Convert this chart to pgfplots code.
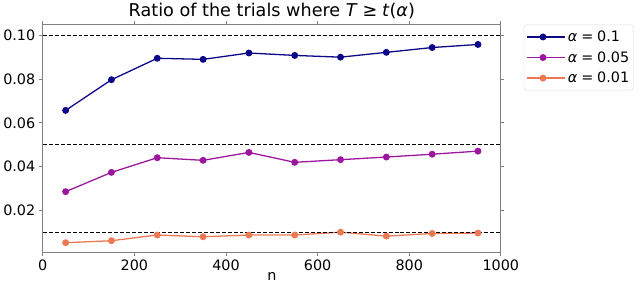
\documentclass[border=0pt]{standalone}
\usepackage{fontspec}
\setmainfont{DejaVu Sans}
\usepackage{pgfplots}
\pgfplotsset{compat=1.18}
\definecolor{cblue}{HTML}{0D0887}
\definecolor{cpurple}{HTML}{9C179E}
\definecolor{corange}{HTML}{ED7953}
\definecolor{spine}{HTML}{808080}
\newcommand{\msp}{\hspace{0.27em}}
\begin{document}
\begin{tikzpicture}
\begin{axis}[
  scale only axis,
  width=461bp, height=229bp,
  xmin=0, xmax=1000,
  ymin=0.0008, ymax=0.1047,
  xtick={0,200,400,600,800,1000},
  ytick={0.02,0.04,0.06,0.08,0.10},
  xticklabel style={/pgf/number format/1000 sep={}},
  yticklabel style={/pgf/number format/fixed,/pgf/number format/fixed zerofill,/pgf/number format/precision=2},
  /pgf/number format/assume math mode=true,
  scaled y ticks=false,
  tick align=outside,
  major tick length=3.5bp,
  tick style={spine, line width=0.8bp},
  axis line style={spine, line width=1bp},
  every tick label/.append style={font=\fontsize{14.5}{16}\selectfont, black},
  xticklabel style={yshift=-0.5bp},
  yticklabel style={xshift=-0.5bp},
  xlabel={n},
  xlabel style={font=\fontsize{14.5}{16}\selectfont, yshift=5bp},
  title={Ratio of the trials where \textit{T}\msp≥\msp\textit{t}(\textit{α})},
  title style={font=\fontsize{17.8}{19}\selectfont, yshift=-3.5bp},
  legend style={at={(1.05,1.001)}, anchor=north west, draw=black!15, rounded corners=2.5bp,
    font=\fontsize{14.5}{16}\selectfont, row sep=4.5bp, inner xsep=2bp, inner ysep=4bp},
  legend cell align=left,
  legend image code/.code={
    \path (-1bp,0bp) -- (38bp,0bp);
    \draw[#1, line width=1.3bp, mark=none] (0bp,0bp) -- (31bp,0bp);
    \fill[#1] (15.5bp,0bp) circle (2.8bp);
  },
  clip=false,
]
\addplot[cblue, line width=1.3bp, mark=*, mark size=2.8bp] coordinates {
(50,0.0657) (150,0.0797) (250,0.0895) (350,0.0890) (450,0.0919) (550,0.0908) (650,0.0900) (750,0.0922) (850,0.0944) (950,0.0958)};
\addlegendentry{\textit{α}\msp=\msp0.1}
\addplot[cpurple, line width=1.3bp, mark=*, mark size=2.8bp] coordinates {
(50,0.0286) (150,0.0374) (250,0.0441) (350,0.0429) (450,0.0465) (550,0.0420) (650,0.0432) (750,0.0444) (850,0.0457) (950,0.0471)};
\addlegendentry{\textit{α}\msp=\msp0.05}
\addplot[corange, line width=1.3bp, mark=*, mark size=2.8bp] coordinates {
(50,0.0053) (150,0.0062) (250,0.0088) (350,0.0080) (450,0.0088) (550,0.0088) (650,0.0101) (750,0.0083) (850,0.0095) (950,0.0097)};
\addlegendentry{\textit{α}\msp=\msp0.01}
\addplot[black, line width=0.9bp, dash pattern=on 4bp off 2bp, forget plot] coordinates {(0,0.1) (1000,0.1)};
\addplot[black, line width=0.9bp, dash pattern=on 4bp off 2bp, forget plot] coordinates {(0,0.05) (1000,0.05)};
\addplot[black, line width=0.9bp, dash pattern=on 4bp off 2bp, forget plot] coordinates {(0,0.01) (1000,0.01)};
\end{axis}
\path[use as bounding box] (-39bp,-35bp) rectangle (601bp,249bp);
\end{tikzpicture}
\end{document}
